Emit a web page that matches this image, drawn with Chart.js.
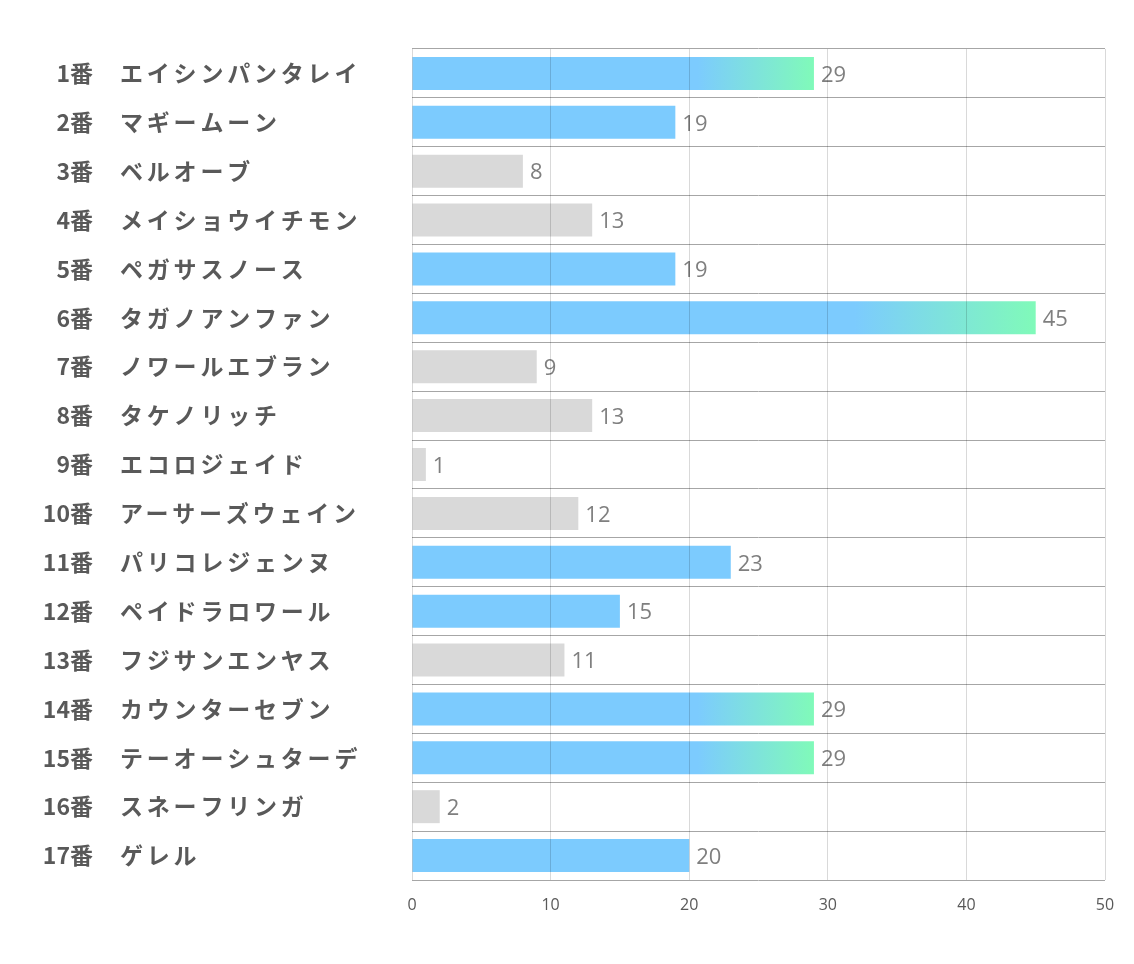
<!DOCTYPE html>
<html><head><meta charset="utf-8">
<script src="https://cdn.jsdelivr.net/npm/chart.js@4"></script>
<style>html,body{margin:0;padding:0;background:#fff}#wrap{width:1134px;height:964px}</style>
</head><body><div id="wrap"><canvas id="c" width="1134" height="964"></canvas></div>
<script>
const gateLabels = ['1番','2番','3番','4番','5番','6番','7番','8番','9番','10番','11番','12番','13番','14番','15番','16番','17番'];
const horseNames = ['エイシンパンタレイ','マギームーン','ベルオーブ','メイショウイチモン','ペガサスノース','タガノアンファン','ノワールエブラン','タケノリッチ','エコロジェイド','アーサーズウェイン','パリコレジェンヌ','ペイドラロワール','フジサンエンヤス','カウンターセブン','テーオーシュターデ','スネーフリンガ','ゲレル'];
const values = [29,19,8,13,19,45,9,13,1,12,23,15,11,29,29,2,20];
const xMin = 0, xMax = 50, xStep = 10;

const BLUE = 'rgb(124,203,254)', GREEN = 'rgb(128,250,185)', GRAY = 'rgb(217,217,217)';

function barColor(ctx){
  const v = ctx.raw;
  if (v >= 29){
    const chart = ctx.chart;
    const xs = chart.scales.x;
    if (!chart.chartArea) return BLUE;
    const x0 = xs.getPixelForValue(0), x1 = xs.getPixelForValue(v);
    const g = chart.ctx.createLinearGradient(x0,0,x1,0);
    g.addColorStop(0,BLUE); g.addColorStop(0.71,BLUE); g.addColorStop(1,GREEN);
    return g;
  }
  return v >= 15 ? BLUE : GRAY;
}

const labelPlugin = {
  id:'labels',
  afterDatasetsDraw(chart){
    const ctx = chart.ctx, ys = chart.scales.y;
    ctx.save();
    ctx.textBaseline = 'middle';
    ctx.fillStyle = '#595959';
    ctx.font = 'bold 23px "Noto Sans CJK JP"';
    for (let i=0;i<horseNames.length;i++){
      const y = ys.getPixelForValue(i);
      ctx.letterSpacing = '0px';
      ctx.textAlign = 'right';
      ctx.fillText(gateLabels[i], 93, y);
      ctx.letterSpacing = '3.8px';
      ctx.textAlign = 'left';
      ctx.fillText(horseNames[i], 120, y);
    }
    ctx.letterSpacing = '0px';
    ctx.font = '22px "Open Sans"';
    ctx.fillStyle = '#7f7f7f';
    const meta = chart.getDatasetMeta(0);
    meta.data.forEach((bar,i)=>{
      ctx.textAlign='left';
      ctx.fillText(String(values[i]), bar.x + 7, bar.y + 2);
    });
    ctx.restore();
  }
};

new Chart(document.getElementById('c'), {
  type:'bar',
  data:{ labels: horseNames, datasets:[{ data: values, backgroundColor: barColor, borderWidth:0, barPercentage:0.675, categoryPercentage:1 }]},
  options:{
    indexAxis:'y', responsive:false, animation:false,
    layout:{ padding:{ top:49, right:29, left:0, bottom:0 } },
    plugins:{ legend:{display:false}, tooltip:{enabled:false} },
    scales:{
      x:{ min:xMin, max:xMax,
          ticks:{ stepSize:xStep, color:'#595959', font:{family:'"Open Sans"', size:16}, padding:16 },
          grid:{ color:'rgba(0,0,0,0.15)', drawTicks:false, z:1 },
          border:{ display:false },
          afterFit(s){ s.height = 84; } },
      y:{ ticks:{ display:false },
          grid:{ color:'#a6a6a6', drawTicks:false, offset:true },
          border:{ display:false },
          afterFit(s){ s.width = 412; } }
    }
  },
  plugins:[labelPlugin]
});
</script></body></html>
